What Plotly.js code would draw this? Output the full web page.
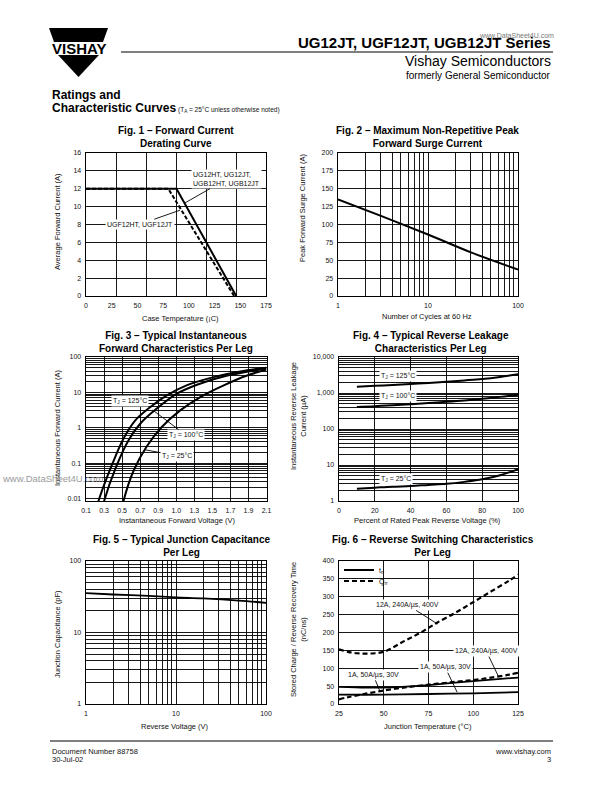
<!DOCTYPE html>
<html><head><meta charset="utf-8">
<script src="https://cdn.plot.ly/plotly-3.0.1.min.js"></script>
<style>html,body{margin:0;padding:0;background:#fff}#chart{width:595px;height:793px}</style>
</head><body><div id="chart"></div>
<script>
// ================= DATA =================
// Fig. 1 – Forward Current Derating Curve
const fig1SolidTemp = [0, 88, 146];
const fig1SolidCurrent = [12, 12, 0];
const fig1DashedTemp = [0, 80, 144];
const fig1DashedCurrent = [12, 12, 0];
const fig1XTickVals = [0, 25, 50, 75, 100, 125, 150, 175];
const fig1YTickVals = [0, 2, 4, 6, 8, 10, 12, 14, 16];

// Fig. 2 – Maximum Non-Repetitive Peak Forward Surge Current
const fig2Cycles = [1, 3, 10, 30, 100];
const fig2Surge = [135, 112, 86, 61, 37];

// Fig. 3 – Typical Instantaneous Forward Characteristics
const fig3V125 = [0.2, 0.237, 0.385, 0.515, 0.644, 0.81, 0.996, 1.22, 1.515, 1.81, 2.1];
const fig3I125 = [0.004, 0.0084, 0.086, 0.49, 1.6, 3.8, 8.2, 16, 27, 39, 50];
const fig3V100 = [0.27, 0.3, 0.44, 0.57, 0.7, 0.885, 1.107, 1.33, 1.626, 2.1];
const fig3I100 = [0.004, 0.0084, 0.086, 0.44, 1.3, 3.5, 9.2, 16.5, 28, 47];
const fig3V25 = [0.49, 0.515, 0.626, 0.774, 0.94, 1.144, 1.367, 1.626, 1.885, 2.1];
const fig3I25 = [0.004, 0.0084, 0.06, 0.3, 1.05, 3.1, 7.4, 15.8, 30, 44];
const fig3XTickVals = [0.1, 0.3, 0.5, 0.7, 0.9, 1.1, 1.3, 1.5, 1.7, 1.9, 2.1];
const fig3XTickText = ['0.1', '0.3', '0.5', '0.7', '0.9', '1.0', '1.3', '1.5', '1.7', '1.9', '2.1'];
const fig3YTickVals = [0.01, 0.1, 1, 10, 100];
const fig3YTickText = ['0.01', '0.1', '1', '10', '100'];

// Fig. 4 – Typical Reverse Leakage Characteristics
const fig4Percent = [10, 20, 30, 40, 50, 60, 70, 80, 90, 100];
const fig4Leak125 = [1500, 1580, 1680, 1780, 1900, 2050, 2230, 2450, 2800, 3300];
const fig4Leak100 = [410, 430, 460, 490, 530, 570, 620, 690, 780, 900];
const fig4Leak25 = [2.2, 2.35, 2.5, 2.6, 2.8, 3.0, 3.4, 4.0, 5.2, 7.7];
const fig4YTickVals = [1, 10, 100, 1000, 10000];
const fig4YTickText = ['1', '10', '100', '1,000', '10,000'];

// Fig. 5 – Typical Junction Capacitance
const fig5Voltage = [1, 2, 5, 10, 20, 50, 100];
const fig5Capacitance = [35.5, 34, 32.5, 31, 30, 28, 26];

// shared decade ticks for Fig. 2 / Fig. 5
const decadeTickVals = [1, 10, 100];
const decadeTickText = ['1', '10', '100'];

// Fig. 6 – Reverse Switching Characteristics
const fig6TempQrr12 = [25, 30, 35, 40, 45, 50, 55, 60, 65, 70, 75, 80, 90, 100, 110, 120, 125];
const fig6Qrr12 = [153, 146, 142, 141, 142, 146, 158, 172, 185, 198, 213, 228, 255, 285, 315, 345, 362];
const fig6TempTrr12 = [25, 40, 50, 60, 75, 100, 125];
const fig6Trr12 = [48, 46, 46, 48, 53, 64, 74];
const fig6TempTrr1 = [25, 50, 75, 100, 125];
const fig6Trr1 = [26, 26, 28, 30, 33];
const fig6TempQrr1 = [25, 30, 40, 48, 50, 60, 75, 90, 100, 110, 120, 125];
const fig6Qrr1 = [13, 19, 29, 36, 38, 45, 54, 62, 67, 74, 82, 87];

// ================= LAYOUT HELPERS =================
const W = 595, H = 793;
const FONT = 'Liberation Sans, Arial, Helvetica, sans-serif';
const dx = (a, b) => [a / W, b / W];
const dy = (top, bottom) => [1 - bottom / H, 1 - top / H];
const px = v => v / W;
const py = v => 1 - v / H;

// minor log gridline positions (2..9 x each decade)
function logMinor(minExp, maxExp) {
  const vals = [];
  for (let e = minExp; e < maxExp; e++)
    for (let m = 2; m <= 9; m++) vals.push(m * Math.pow(10, e));
  return vals;
}
const minorGrid = vals => ({tickmode: 'array', tickvals: vals, showgrid: true, gridcolor: '#000', gridwidth: 0.9, ticks: ''});

function axis(extra) {
  return Object.assign({
    showline: true, mirror: true, linecolor: '#000', linewidth: 1.4,
    showgrid: true, gridcolor: '#000', gridwidth: 0.9, zeroline: false,
    ticks: '', tickfont: {family: FONT, size: 7, color: '#111'},
    fixedrange: true, ticklabelstandoff: 2
  }, extra);
}

function txt(text, x, y, o) {
  o = o || {};
  return {
    text: text, x: px(x), y: py(y), xref: 'paper', yref: 'paper', showarrow: false,
    xanchor: o.xanchor || 'center', yanchor: o.yanchor || 'middle', align: o.align || 'center',
    textangle: o.angle || 0,
    font: {family: FONT, size: o.size || 7.5, color: o.color || '#111'}
  };
}
function note(text, xref, yref, x, y, o) {
  o = o || {};
  const a = {
    text: text, xref: xref, yref: yref, x: x, y: y,
    font: {family: FONT, size: o.size || 7, color: '#111'},
    bgcolor: '#fff', borderpad: 1, align: o.align || 'center',
    showarrow: !!o.arrow
  };
  if (o.arrow) {
    a.ax = o.ax; a.ay = o.ay; a.arrowhead = 0; a.arrowwidth = 0.9; a.arrowcolor = '#000'; a.standoff = 0;
  }
  return a;
}

// ================= TRACES =================
const lineBlack = w => ({color: '#000', width: w});
const spl = w => ({color: '#000', width: w, shape: 'spline'});
const traces = [
  // Fig 1
  {x: fig1DashedTemp, y: fig1DashedCurrent, xaxis: 'x', yaxis: 'y', mode: 'lines', line: {color: '#000', width: 2, dash: '4px,2px'}, showlegend: false, hoverinfo: 'skip'},
  {x: fig1SolidTemp, y: fig1SolidCurrent, xaxis: 'x', yaxis: 'y', mode: 'lines', line: lineBlack(2), showlegend: false, hoverinfo: 'skip'},
  // Fig 2
  {x: fig2Cycles, y: fig2Surge, xaxis: 'x2', yaxis: 'y2', mode: 'lines', line: spl(2), showlegend: false, hoverinfo: 'skip'},
  // Fig 3
  {x: fig3V125, y: fig3I125, xaxis: 'x3', yaxis: 'y3', mode: 'lines', line: spl(2), showlegend: false, hoverinfo: 'skip'},
  {x: fig3V100, y: fig3I100, xaxis: 'x3', yaxis: 'y3', mode: 'lines', line: spl(2), showlegend: false, hoverinfo: 'skip'},
  {x: fig3V25, y: fig3I25, xaxis: 'x3', yaxis: 'y3', mode: 'lines', line: spl(2), showlegend: false, hoverinfo: 'skip'},
  // Fig 4
  {x: fig4Percent, y: fig4Leak125, xaxis: 'x4', yaxis: 'y4', mode: 'lines', line: spl(2), showlegend: false, hoverinfo: 'skip'},
  {x: fig4Percent, y: fig4Leak100, xaxis: 'x4', yaxis: 'y4', mode: 'lines', line: spl(2), showlegend: false, hoverinfo: 'skip'},
  {x: fig4Percent, y: fig4Leak25, xaxis: 'x4', yaxis: 'y4', mode: 'lines', line: spl(2), showlegend: false, hoverinfo: 'skip'},
  // Fig 5
  {x: fig5Voltage, y: fig5Capacitance, xaxis: 'x5', yaxis: 'y5', mode: 'lines', line: spl(1.8), showlegend: false, hoverinfo: 'skip'},
  // Fig 6
  {x: fig6TempTrr12, y: fig6Trr12, xaxis: 'x6', yaxis: 'y6', mode: 'lines', name: 't<sub>rr</sub>', line: spl(1.8), showlegend: true, legend: 'legend', hoverinfo: 'skip'},
  {x: fig6TempQrr12, y: fig6Qrr12, xaxis: 'x6', yaxis: 'y6', mode: 'lines', name: 'Q<sub>rr</sub>', line: {color: '#000', width: 2.2, dash: '5px,3px', shape: 'spline'}, showlegend: true, legend: 'legend2', hoverinfo: 'skip'},
  {x: fig6TempTrr1, y: fig6Trr1, xaxis: 'x6', yaxis: 'y6', mode: 'lines', line: spl(1.8), showlegend: false, hoverinfo: 'skip'},
  {x: fig6TempQrr1, y: fig6Qrr1, xaxis: 'x6', yaxis: 'y6', mode: 'lines', line: {color: '#000', width: 2.2, dash: '5px,3px', shape: 'spline'}, showlegend: false, hoverinfo: 'skip'}
];

// ================= ANNOTATIONS =================
const L = Math.log10;
const annotations = [
  // header
  txt('<b>UG12JT, UGF12JT, UGB12JT Series</b>', 553, 43, {size: 15, xanchor: 'right', color: '#000'}),
  txt('www.DataSheet4U.com', 556, 36, {size: 7, xanchor: 'right', color: '#777'}),
  txt('Vishay Semiconductors', 553, 60.5, {size: 14, xanchor: 'right', color: '#000'}),
  txt('formerly General Semiconductor', 553, 75, {size: 10, xanchor: 'right', color: '#000'}),
  txt('<b>VISHAY</b>', 78.5, 48.5, {size: 15, color: '#000'}),
  txt('<b>Ratings and</b>', 50, 95, {size: 12, xanchor: 'left', color: '#000'}),
  txt('<b>Characteristic Curves</b>', 50, 108, {size: 12, xanchor: 'left', color: '#000'}),
  txt('(T<sub>A</sub> = 25°C unless otherwise noted)', 176, 109.5, {size: 6.5, xanchor: 'left'}),
  // figure titles
  txt('<b>Fig. 1 – Forward Current</b><br><b>Derating Curve</b>', 176, 137, {size: 10, color: '#000'}),
  txt('<b>Fig. 2 – Maximum Non-Repetitive Peak</b><br><b>Forward Surge Current</b>', 427, 137, {size: 10, color: '#000'}),
  txt('<b>Fig. 3 – Typical Instantaneous</b><br><b>Forward Characteristics Per Leg</b>', 176, 341.5, {size: 10, color: '#000'}),
  txt('<b>Fig. 4 – Typical Reverse Leakage</b><br><b>Characteristics Per Leg</b>', 431, 341.5, {size: 10, color: '#000'}),
  txt('<b>Fig. 5 – Typical Junction Capacitance</b><br><b>Per Leg</b>', 182, 546, {size: 10, color: '#000'}),
  txt('<b>Fig. 6 – Reverse Switching Characteristics</b><br><b>Per Leg</b>', 433, 546, {size: 10, color: '#000'}),
  // axis titles
  txt('Case Temperature (¡C)', 180, 318),
  txt('Average Forward Current (A)', 57, 222, {angle: -90}),
  txt('Number of Cycles at 60 Hz', 427, 317),
  txt('Peak Forward Surge Current (A)', 302, 208, {angle: -90}),
  txt('Instantaneous Forward Voltage (V)', 177, 520),
  txt('Instantaneous Forward Current (A)', 57, 428, {angle: -90}),
  txt('Percent of Rated Peak Reverse Voltage (%)', 427, 520),
  txt('Instantaneous Reverse Leakage<br>Current (µA)', 298, 416, {angle: -90}),
  txt('Reverse Voltage (V)', 175, 726),
  txt('Junction Capacitance (pF)', 57, 634, {angle: -90}),
  txt('Junction Temperature (°C)', 428, 726),
  txt('Stored Charge / Reverse Recovery Time<br>(nC/ns)', 298, 630, {angle: -90}),
  // watermark
  txt('www.DataSheet4U.com', 0, 478, {size: 9.5, xanchor: 'left', color: '#9a9a9a'}),
  // footer
  txt('Document Number 88758', 50, 751, {size: 7.5, xanchor: 'left'}),
  txt('30-Jul-02', 50, 759.5, {size: 7.5, xanchor: 'left'}),
  txt('www.vishay.com', 553, 751, {size: 7.5, xanchor: 'right'}),
  txt('3', 553, 759.5, {size: 7.5, xanchor: 'right'}),
  // Fig 1 labels
  note('UG12HT, UG12JT,<br>UGB12HT, UGB12JT', 'x', 'y', 96, 10.4, {arrow: true, ax: 42, ay: -24, align: 'left'}),
  note('UGF12HT, UGF12JT', 'x', 'y', 91.4, 9.6, {arrow: true, ax: -40, ay: 14}),
  // Fig 3 labels
  note('T<sub>J</sub> = 125°C', 'x3', 'y3', 0.59, L(5.7)),
  note('T<sub>J</sub> = 100°C', 'x3', 'y3', 0.84, 0.5, {arrow: true, ax: 33, ay: 25}),
  note('T<sub>J</sub> = 25°C', 'x3', 'y3', 0.75, -0.62, {arrow: true, ax: 32, ay: 6}),
  // Fig 4 labels
  note('T<sub>J</sub> = 125°C', 'x4', 'y4', 33, 3.47),
  note('T<sub>J</sub> = 100°C', 'x4', 'y4', 33, 2.92),
  note('T<sub>J</sub> = 25°C', 'x4', 'y4', 32, 0.61),
  // Fig 6 labels
  note('12A, 240A/µs, 400V', 'x6', 'y6', 80, 224, {arrow: true, ax: -30, ay: -19}),
  note('12A, 240A/µs, 400V', 'x6', 'y6', 114, 78, {arrow: true, ax: -12, ay: -25}),
  note('1A, 50A/µs, 30V', 'x6', 'y6', 91, 33, {arrow: true, ax: -12, ay: -25}),
  note('1A, 50A/µs, 30V', 'x6', 'y6', 48, 34, {arrow: true, ax: -7, ay: -17})
];

// ================= SHAPES (page decoration) =================
function pathPx(points) {
  return 'M' + points.map(p => px(p[0]) + ',' + py(p[1])).join('L') + 'Z';
}
const shapes = [
  {type: 'path', xref: 'paper', yref: 'paper', path: pathPx([[49, 28], [108, 28], [103, 42], [54, 42]]), fillcolor: '#000', line: {width: 0}},
  {type: 'path', xref: 'paper', yref: 'paper', path: pathPx([[58, 55], [99, 55], [78.5, 77]]), fillcolor: '#000', line: {width: 0}},
  {type: 'line', xref: 'paper', yref: 'paper', x0: px(121), x1: px(553), y0: py(52), y1: py(52), line: {color: '#000', width: 1}},
  {type: 'line', xref: 'paper', yref: 'paper', x0: px(50), x1: px(553), y0: py(741), y1: py(741), line: {color: '#000', width: 1}}
];

// ================= LAYOUT =================
const legendBase = {xanchor: 'left', yanchor: 'middle', font: {family: FONT, size: 7, color: '#111'},
  bgcolor: 'rgba(0,0,0,0)', borderwidth: 0, tracegroupgap: 0, itemwidth: 30};
const layout = {
  width: W, height: H, margin: {l: 0, r: 0, t: 0, b: 0},
  paper_bgcolor: '#fff', plot_bgcolor: '#fff',
  font: {family: FONT, size: 7, color: '#111'},
  showlegend: true,
  legend: Object.assign({}, legendBase, {x: px(339), y: py(570)}),
  legend2: Object.assign({}, legendBase, {x: px(339), y: py(581)}),
  xaxis: axis({domain: dx(86, 266), anchor: 'y', range: [0, 175], tickmode: 'array', tickvals: fig1XTickVals, showgrid: false,
               minor: minorGrid([1, 2, 3, 4, 5].map(k => k * 175 / 6))}),
  yaxis: axis({domain: dy(153, 296), anchor: 'x', range: [0, 16], tickmode: 'array', tickvals: fig1YTickVals}),
  xaxis2: axis({domain: dx(338, 518), anchor: 'y2', type: 'log', range: [0, 2], tickmode: 'array', tickvals: decadeTickVals, ticktext: decadeTickText, minor: minorGrid(logMinor(0, 2))}),
  yaxis2: axis({domain: dy(153, 296), anchor: 'x2', range: [0, 200], dtick: 25, tick0: 0}),
  xaxis3: axis({domain: dx(86, 266.5), anchor: 'y3', range: [0.1, 2.1], tickmode: 'array', tickvals: fig3XTickVals, ticktext: fig3XTickText}),
  yaxis3: axis({domain: dy(357, 501), anchor: 'x3', type: 'log', range: [-2.07, 2], tickmode: 'array', tickvals: fig3YTickVals, ticktext: fig3YTickText, minor: minorGrid(logMinor(-3, 2))}),
  xaxis4: axis({domain: dx(339, 518), anchor: 'y4', range: [0, 100], dtick: 20, tick0: 0}),
  yaxis4: axis({domain: dy(357, 501), anchor: 'x4', type: 'log', range: [0, 4], tickmode: 'array', tickvals: fig4YTickVals, ticktext: fig4YTickText, minor: minorGrid(logMinor(0, 4))}),
  xaxis5: axis({domain: dx(86, 266), anchor: 'y5', type: 'log', range: [0, 2], tickmode: 'array', tickvals: decadeTickVals, ticktext: decadeTickText, minor: minorGrid(logMinor(0, 2))}),
  yaxis5: axis({domain: dy(561, 704), anchor: 'x5', type: 'log', range: [0, 2], tickmode: 'array', tickvals: decadeTickVals, ticktext: decadeTickText, minor: minorGrid(logMinor(0, 2))}),
  xaxis6: axis({domain: dx(339, 518), anchor: 'y6', range: [25, 125], dtick: 25, tick0: 25}),
  yaxis6: axis({domain: dy(561, 704), anchor: 'x6', range: [0, 400], dtick: 50, tick0: 0}),
  annotations: annotations,
  shapes: shapes
};

Plotly.newPlot('chart', traces, layout, {displayModeBar: false, staticPlot: true}).then(gd => {
  // drop Plotly's empty placeholder text nodes (unused axis/legend titles)
  gd.querySelectorAll('text').forEach(t => { if (!t.textContent.trim()) t.remove(); });
});
</script>
</body></html>
